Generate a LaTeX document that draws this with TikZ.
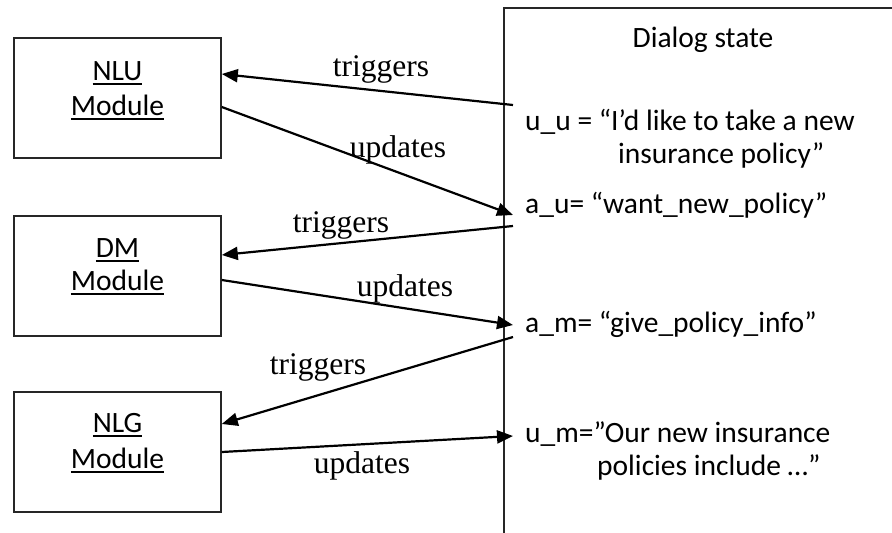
\documentclass[tikz,border=0pt]{standalone}
\usepackage{fontspec}
\setmainfont{Carlito}
\newfontfamily\labelfont{Liberation Serif}
\usetikzlibrary{arrows.meta}
% underlined module names
\newcommand{\modline}[1]{\setbox0\hbox{#1}\rlap{\rule[-5pt]{\wd0}{1.7pt}}\box0}

\begin{document}
\begin{tikzpicture}[x=1pt,y=-1pt,
  module/.style={draw=black!85, line width=1.6pt, minimum width=207pt,
    minimum height=120pt, inner sep=0pt},
  modtext/.style={anchor=base, font=\fontsize{29.5}{35}\selectfont, inner sep=0pt},
  state/.style={anchor=base west, font=\fontsize{29.5}{35}\selectfont, inner sep=0pt},
  flow/.style={line width=2.2pt, -{Triangle[length=16pt,width=13pt]}},
  lbl/.style={anchor=base, font=\labelfont\fontsize{31.5}{36}\selectfont, inner sep=0pt}]
\useasboundingbox (0,0) rectangle (892,533);

% dialog state panel (open to the right and bottom)
\draw[line width=1.6pt, black!85] (504,533) -- (504,8) -- (892,8);

% modules
\node[module] (nlu) at (117.5,98) {};
\node[module] (dm)  at (117.5,276) {};
\node[module] (nlg) at (117.5,452) {};

\node[modtext] (nlut1) at (117.5,80)  {\modline{NLU}};
\node[modtext] (nlut2) at (117.5,115) {\modline{Module}};
\node[modtext] (dmt1)  at (117.5,257) {\modline{DM}};
\node[modtext] (dmt2)  at (117.5,290) {\modline{Module}};
\node[modtext] (nlgt1) at (117.5,432) {\modline{NLG}};
\node[modtext] (nlgt2) at (117.5,468) {\modline{Module}};

% dialog state contents
\node[modtext] (title) at (703,47) {Dialog state};
\node[state] (uu1) at (525,130) {u\_u = “I’d like to take a new};
\node[state] (uu2) at (618,163) {insurance policy”};
\node[state] (au)  at (525,213) {a\_u= “want\_new\_policy”};
\node[state] (am)  at (525,332) {a\_m= “give\_policy\_info”};
\node[state] (um1) at (525,442) {u\_m=”Our new insurance};
\node[state] (um2) at (597,475) {policies include …”};

% connector ends at the state entries
\coordinate (uuout) at (513,105);
\coordinate (auin)  at (513,215);
\coordinate (auout) at (513,226);
\coordinate (amin)  at (513,325);
\coordinate (amout) at (513,337);
\coordinate (umin)  at (513,436);

% flows
\draw[flow] (uuout) -- ([yshift=24pt]nlu.east);
\draw[flow] ([yshift=-9pt]nlu.east) -- (auin);
\draw[flow] (auout) -- ([yshift=21pt]dm.east);
\draw[flow] ([yshift=-4pt]dm.east) -- (amin);
\draw[flow] (amout) -- ([yshift=28pt]nlg.east);
\draw[flow] (nlg.east) -- (umin);

% flow labels
\node[lbl] (l1) at (381,76)  {triggers};
\node[lbl] (l2) at (398,157) {updates};
\node[lbl] (l3) at (341,232) {triggers};
\node[lbl] (l4) at (405,296) {updates};
\node[lbl] (l5) at (318,374) {triggers};
\node[lbl] (l6) at (362,473) {updates};
\end{tikzpicture}
\end{document}
